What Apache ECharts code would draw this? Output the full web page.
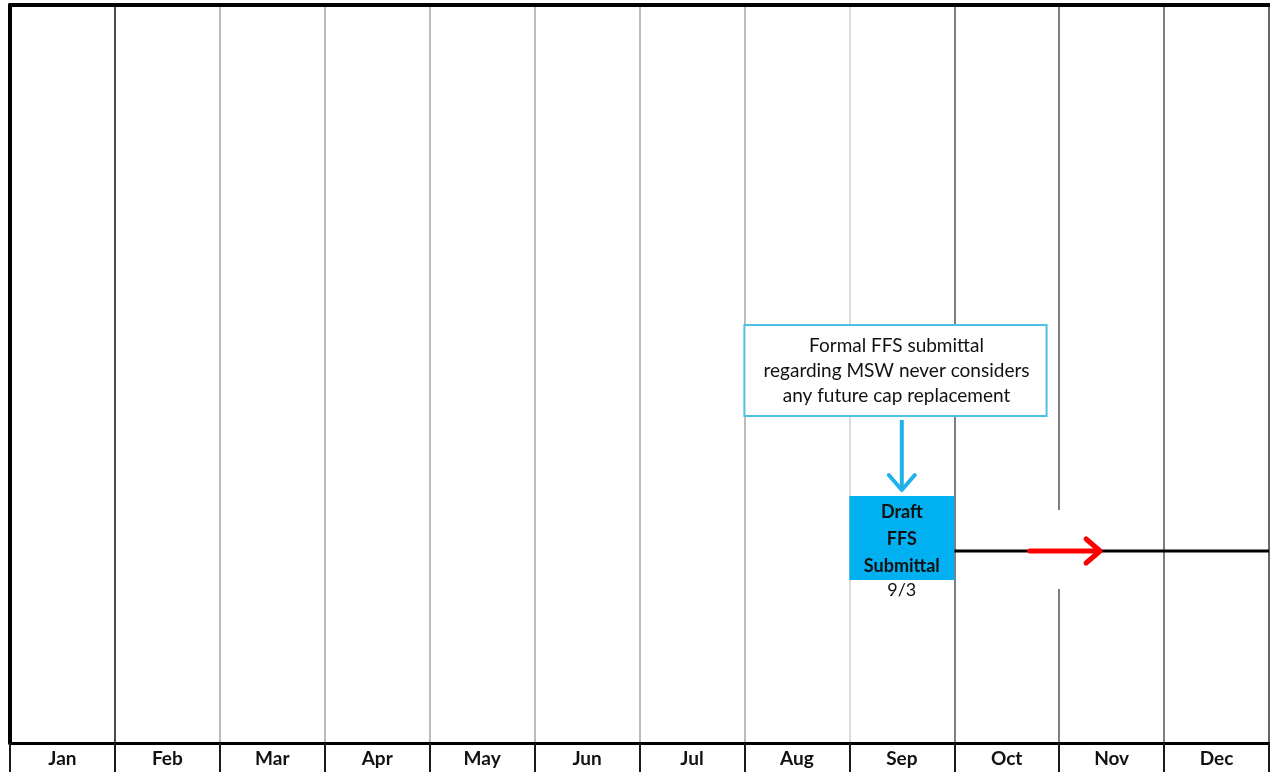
<!DOCTYPE html>
<html>
<head>
<meta charset="utf-8">
<script src="https://cdn.jsdelivr.net/npm/echarts@6/dist/echarts.min.js"></script>
<style>
  html, body { margin: 0; padding: 0; background: #ffffff; }
  #chart { width: 1270px; height: 772px; }
</style>
</head>
<body>
<div id="chart"></div>
<script>
// Month columns of the schedule
const months = ['Jan', 'Feb', 'Mar', 'Apr', 'May', 'Jun', 'Jul', 'Aug', 'Sep', 'Oct', 'Nov', 'Dec'];

// Milestone block: month-boundary span, title and date
const milestoneSpan = [8, 9];
const milestoneTitle = ['Draft', 'FFS', 'Submittal'];
const milestoneDate = ['9/3'];

// Schedule line continuing after the milestone, with its direction arrow
const timelineSpan = [9, 12];
const continueArrow = [9.72, 10.39];

// Callout note above the milestone
const noteSpan = [7, 9.88];
const noteLines = ['Formal FFS submittal', 'regarding MSW never considers', 'any future cap replacement'];

const FONT = 'Lato, "Open Sans", sans-serif';
const chart = echarts.init(document.getElementById('chart'), null, { renderer: 'canvas' });

// Column rule colours, one per month boundary (Jan start .. Dec end)
const ruleColors = ['#000000', '#111111', '#a4a4a4', '#a4a4a4', '#a4a4a4', '#a4a4a4', '#a4a4a4',
                    '#a4a4a4', '#cfcfcf', '#555555', '#555555', '#555555', '#666666'];

function rectBetween(api, x0, x1, y0, y1) {
  const a = api.coord([x0, y0]);
  const b = api.coord([x1, y1]);
  return { x: a[0], y: a[1], width: b[0] - a[0], height: b[1] - a[1] };
}

const option = {
  animation: false,
  backgroundColor: '#ffffff',
  grid: { left: 10, right: 1, top: 5, bottom: 29, containLabel: false },
  xAxis: [
    {
      type: 'category',
      data: months,
      position: 'bottom',
      boundaryGap: true,
      axisLine: { show: true, onZero: false, lineStyle: { color: '#000', width: 3 } },
      axisTick: { show: true, alignWithLabel: false, length: 29, lineStyle: { color: '#1a1a1a', width: 2 } },
      axisLabel: { color: '#111', fontFamily: FONT, fontWeight: 'bold', fontSize: 19, margin: 6 },
      splitLine: { show: true, showMinLine: true, showMaxLine: true, lineStyle: { color: ruleColors, width: 1.5 } }
    },
    {
      type: 'category',
      data: months,
      position: 'top',
      axisLine: { show: true, onZero: false, lineStyle: { color: '#000', width: 4 } },
      axisTick: { show: false },
      axisLabel: { show: false },
      splitLine: { show: false }
    },
    { type: 'value', min: 0, max: 12, show: false }
  ],
  yAxis: [
    {
      type: 'value', min: 0, max: 738, inverse: true,
      axisLine: { show: true, onZero: false, lineStyle: { color: '#000', width: 4 } },
      axisTick: { show: false }, axisLabel: { show: false }, splitLine: { show: false }
    },
    {
      type: 'value', min: 0, max: 738, inverse: true, position: 'right',
      axisLine: { show: true, onZero: false, lineStyle: { color: '#666', width: 2 } },
      axisTick: { show: false }, axisLabel: { show: false }, splitLine: { show: false }
    }
  ],
  series: [
    {
      // schedule line after the milestone, gap in the Nov rule, red direction arrow
      type: 'custom',
      xAxisIndex: 2, yAxisIndex: 0,
      data: [[timelineSpan[0], timelineSpan[1], continueArrow[0], continueArrow[1]]],
      renderItem(params, api) {
        const y = 546;
        const s = api.coord([api.value(0), y]);
        const e = api.coord([api.value(1), y]);
        const a0 = api.coord([api.value(2), y]);
        const a1 = api.coord([api.value(3), y]);
        const gapTop = api.coord([10, 505]);
        const gapBot = api.coord([10, 584]);
        return {
          type: 'group',
          children: [
            { type: 'rect', shape: { x: gapTop[0] - 3, y: gapTop[1], width: 6, height: gapBot[1] - gapTop[1] },
              style: { fill: '#ffffff' } },
            { type: 'line', shape: { x1: s[0], y1: s[1], x2: e[0], y2: e[1] },
              style: { stroke: '#000', lineWidth: 3 } },
            { type: 'line', shape: { x1: a0[0], y1: a0[1], x2: a1[0] - 2, y2: a1[1] },
              style: { stroke: '#ff0000', lineWidth: 5, lineCap: 'round' } },
            { type: 'polyline', shape: { points: [[a1[0] - 14, a1[1] - 12], [a1[0], a1[1]], [a1[0] - 14, a1[1] + 12]] },
              style: { stroke: '#ff0000', lineWidth: 5, lineCap: 'round', lineJoin: 'round', fill: null } }
          ]
        };
      }
    },
    {
      // milestone block with its title and date
      type: 'custom',
      xAxisIndex: 2, yAxisIndex: 0,
      data: [[milestoneSpan[0], milestoneSpan[1]]],
      renderItem(params, api) {
        const r = rectBetween(api, api.value(0), api.value(1), 491, 575);
        const cx = r.x + r.width / 2;
        const dateY = api.coord([0, 585])[1];
        return {
          type: 'group',
          children: [
            { type: 'rect', shape: r, style: { fill: '#00b0f0' } },
            { type: 'text', x: cx, y: r.y + r.height / 2 + 1,
              style: { text: milestoneTitle.join('\n'), align: 'center', verticalAlign: 'middle',
                       font: 'bold 18px ' + FONT, lineHeight: 27, fill: '#111' } },
            { type: 'text', x: cx, y: dateY,
              style: { text: milestoneDate[0], align: 'center', verticalAlign: 'middle',
                       font: '18px ' + FONT, fill: '#111' } }
          ]
        };
      }
    },
    {
      // callout note and its pointer arrow
      type: 'custom',
      xAxisIndex: 2, yAxisIndex: 0,
      data: [[noteSpan[0], noteSpan[1]]],
      renderItem(params, api) {
        const r = rectBetween(api, api.value(0), api.value(1), 320, 411);
        const cx = r.x + r.width / 2;
        const top = api.coord([8.5, 415]);
        const tip = api.coord([8.5, 485]);
        return {
          type: 'group',
          children: [
            { type: 'rect', shape: r, style: { fill: '#ffffff', stroke: '#4cc0e6', lineWidth: 2 } },
            { type: 'text', x: cx + 1, y: r.y + r.height / 2,
              style: { text: noteLines.join('\n'), align: 'center', verticalAlign: 'middle',
                       font: '19px ' + FONT, lineHeight: 25, fill: '#111' } },
            { type: 'line', shape: { x1: top[0], y1: top[1], x2: tip[0], y2: tip[1] - 2 },
              style: { stroke: '#1fb1ea', lineWidth: 4 } },
            { type: 'polyline', shape: { points: [[tip[0] - 13, tip[1] - 15], [tip[0], tip[1]], [tip[0] + 13, tip[1] - 15]] },
              style: { stroke: '#1fb1ea', lineWidth: 4, lineJoin: 'round', lineCap: 'round', fill: null } }
          ]
        };
      }
    }
  ]
};

chart.setOption(option);
</script>
</body>
</html>
